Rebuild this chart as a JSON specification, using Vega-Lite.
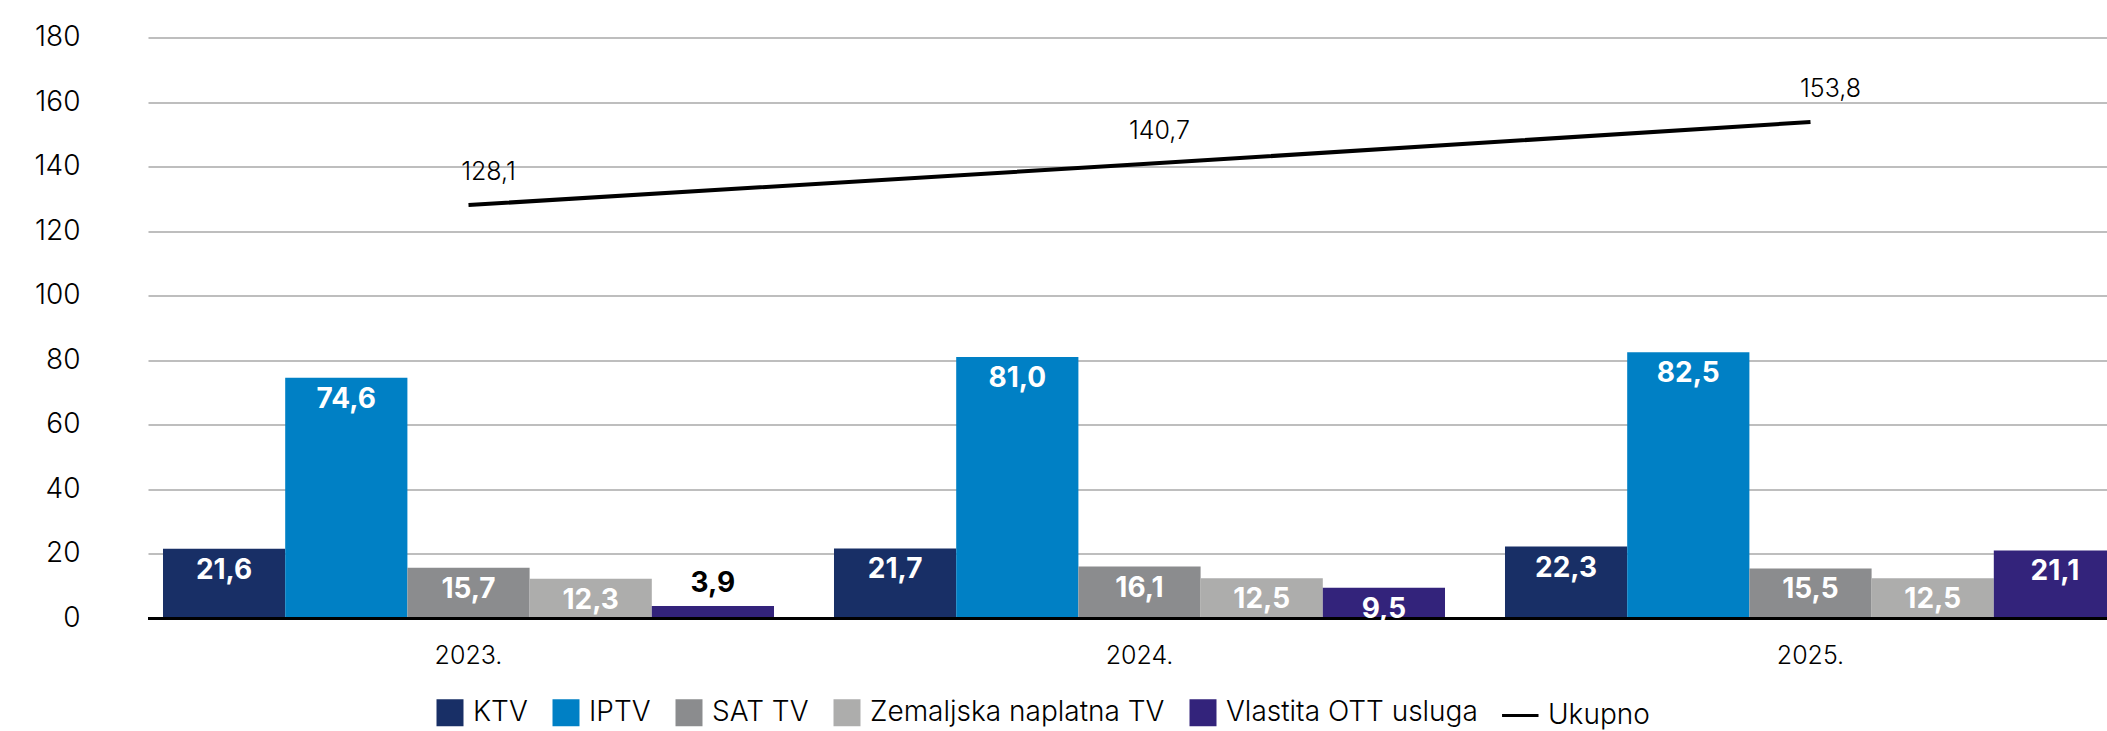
{
  "$schema": "https://vega.github.io/schema/vega-lite/v6.json",
  "width": 1983,
  "height": 581,
  "autosize": {"type": "none"},
  "padding": {"left": 148, "top": 37.5, "right": 0, "bottom": 112.5},
  "background": "white",
  "config": {
    "font": "Inter",
    "view": {"stroke": null},
    "locale": {"number": {"decimal": ",", "thousands": ".", "grouping": [3], "currency": ["", "€"]}}
  },
  "datasets": {
    "bars": [
      {"year": "2023.", "series": "KTV", "value": 21.6},
      {"year": "2023.", "series": "IPTV", "value": 74.6},
      {"year": "2023.", "series": "SAT TV", "value": 15.7},
      {"year": "2023.", "series": "Zemaljska naplatna TV", "value": 12.3},
      {"year": "2023.", "series": "Vlastita OTT usluga", "value": 3.9},
      {"year": "2024.", "series": "KTV", "value": 21.7},
      {"year": "2024.", "series": "IPTV", "value": 81.0},
      {"year": "2024.", "series": "SAT TV", "value": 16.1},
      {"year": "2024.", "series": "Zemaljska naplatna TV", "value": 12.5},
      {"year": "2024.", "series": "Vlastita OTT usluga", "value": 9.5},
      {"year": "2025.", "series": "KTV", "value": 22.3},
      {"year": "2025.", "series": "IPTV", "value": 82.5},
      {"year": "2025.", "series": "SAT TV", "value": 15.5},
      {"year": "2025.", "series": "Zemaljska naplatna TV", "value": 12.5},
      {"year": "2025.", "series": "Vlastita OTT usluga", "value": 21.1}
    ],
    "total": [
      {"year": "2023.", "total": 128.1},
      {"year": "2024.", "total": 140.7},
      {"year": "2025.", "total": 153.8}
    ]
  },
  "layer": [
    {
      "data": {"name": "bars"},
      "mark": {"type": "bar"},
      "encoding": {
        "x": {
          "field": "year", "type": "nominal",
          "scale": {"paddingInner": 0.0894, "paddingOuter": 0.02235},
          "axis": {"title": null, "labelAngle": 0, "ticks": false, "domain": false, "labelFontSize": 25, "labelFontWeight": 300, "labelPadding": 25, "labelColor": "black"}
        },
        "xOffset": {
          "field": "series", "type": "nominal",
          "sort": ["KTV", "IPTV", "SAT TV", "Zemaljska naplatna TV", "Vlastita OTT usluga"],
          "scale": {"paddingInner": 0, "paddingOuter": 0}
        },
        "y": {
          "field": "value", "type": "quantitative",
          "scale": {"domain": [0, 180], "nice": false},
          "axis": {"title": null, "values": [0, 20, 40, 60, 80, 100, 120, 140, 160, 180], "domain": false, "ticks": false, "gridColor": "#a8a8a8", "gridWidth": 1.5, "labelFontSize": 28, "labelFontWeight": 300, "labelPadding": 68, "labelColor": "black"}
        },
        "color": {
          "field": "series", "type": "nominal",
          "scale": {
            "domain": ["KTV", "IPTV", "SAT TV", "Zemaljska naplatna TV", "Vlastita OTT usluga", "Ukupno"],
            "range": ["#182f66", "#0080c5", "#8b8c8e", "#adadac", "#33237b", "#000000"]
          },
          "legend": {
            "title": null, "orient": "none", "legendX": 287, "legendY": 660, "direction": "horizontal",
            "symbolType": "square", "symbolSize": 729, "symbolStrokeWidth": 0,
            "labelFontSize": 28, "labelFontWeight": 300, "labelLimit": 0, "labelOffset": 8, "columnPadding": 18, "labelColor": "black",
            "encode": {
              "symbols": {
                "update": {
                  "shape": {"signal": "datum.value === 'Ukupno' ? 'M-1.7,0H1.0' : 'square'"},
                  "stroke": {"signal": "datum.value === 'Ukupno' ? 'black' : 'transparent'"},
                  "strokeWidth": {"value": 3}
                }
              }
            }
          }
        }
      }
    },
    {
      "data": {"values": [{}]},
      "mark": {"type": "rule", "color": "black", "strokeWidth": 3},
      "encoding": {"y": {"datum": 0, "type": "quantitative"}}
    },
    {
      "data": {"name": "bars"},
      "transform": [{"filter": "datum.value >= 5"}],
      "mark": {"type": "text", "color": "white", "fontWeight": "bold", "fontSize": 28, "baseline": "middle", "dy": 22},
      "encoding": {
        "x": {"field": "year", "type": "nominal"},
        "xOffset": {"field": "series", "type": "nominal", "sort": ["KTV", "IPTV", "SAT TV", "Zemaljska naplatna TV", "Vlastita OTT usluga"]},
        "y": {"field": "value", "type": "quantitative"},
        "text": {"field": "value", "type": "quantitative", "format": ".1f"}
      }
    },
    {
      "data": {"name": "bars"},
      "transform": [{"filter": "datum.value < 5"}],
      "mark": {"type": "text", "color": "black", "fontWeight": "bold", "fontSize": 28, "baseline": "middle", "dy": -22},
      "encoding": {
        "x": {"field": "year", "type": "nominal"},
        "xOffset": {"field": "series", "type": "nominal", "sort": ["KTV", "IPTV", "SAT TV", "Zemaljska naplatna TV", "Vlastita OTT usluga"]},
        "y": {"field": "value", "type": "quantitative"},
        "text": {"field": "value", "type": "quantitative", "format": ".1f"}
      }
    },
    {
      "data": {"name": "total"},
      "mark": {"type": "line", "color": "black", "strokeWidth": 4},
      "encoding": {
        "x": {"field": "year", "type": "nominal"},
        "y": {"field": "total", "type": "quantitative"}
      }
    },
    {
      "data": {"name": "total"},
      "mark": {"type": "text", "color": "black", "fontSize": 25, "fontWeight": 300, "baseline": "middle", "dx": 20, "dy": -33},
      "encoding": {
        "x": {"field": "year", "type": "nominal"},
        "y": {"field": "total", "type": "quantitative"},
        "text": {"field": "total", "type": "quantitative", "format": ".1f"}
      }
    }
  ]
}
